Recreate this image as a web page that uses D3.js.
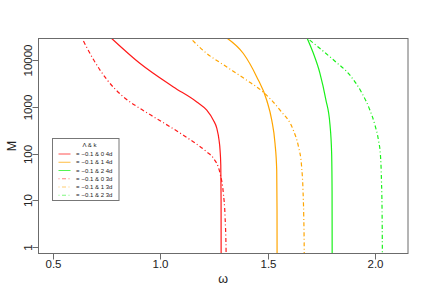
<!DOCTYPE html>
<html>
<head>
<meta charset="utf-8">
<script src="https://cdn.jsdelivr.net/npm/d3@7"></script>
<style>
  html, body { margin: 0; padding: 0; background: #fff; }
  #chart { width: 432px; height: 300px; }
</style>
</head>
<body>
<div id="chart"></div>
<script>
// data (omega, M)
var legendTitle = 'Λ & k';
var seriesLabels = ['−0.1 & 0 4d', '−0.1 & 1 4d', '−0.1 & 2 4d', '−0.1 & 0 3d', '−0.1 & 1 3d', '−0.1 & 2 3d'];
var xTicks = [0.5, 1.0, 1.5, 2.0];
var yTicks = [1, 10, 100, 1000, 10000];

var omega04 = [0.7713, 0.9062, 1.0612, 1.1701, 1.2166, 1.2473, 1.2631, 1.2738, 1.2785, 1.2818, 1.2832, 1.2835];
var m04     = [30000, 8500, 2680, 1279, 849, 519, 349, 193, 118, 56, 10, 0.5];
var omega14 = [1.3097, 1.3869, 1.4493, 1.4958, 1.5191, 1.5344, 1.5423, 1.5437, 1.544];
var m14     = [30000, 13930, 4390, 1390, 519, 164, 44, 6.1, 0.5];
var omega24 = [1.6834, 1.712, 1.743, 1.771, 1.790, 1.798, 1.800, 1.8005];
var m24     = [30000, 14400, 5360, 1430, 429, 102, 16, 0.5];
var omega03 = [0.6349, 0.6889, 0.7513, 0.8285, 0.9062, 0.9839, 1.1077, 1.2166, 1.2473, 1.2785, 1.2939, 1.3018, 1.3064, 1.307];
var m03     = [30000, 10350, 3855, 1636, 923, 558, 247, 108, 79.5, 37.4, 13.9, 4.4, 0.85, 0.5];
var omega13 = [1.1389, 1.2166, 1.2939, 1.4028, 1.48, 1.5577, 1.6196, 1.6438, 1.6577, 1.6647, 1.668, 1.6703, 1.6705];
var m13     = [30000, 13930, 8010, 3725, 2062, 849, 316, 139, 56, 16.4, 4.8, 0.84, 0.5];
var omega23 = [1.6834, 1.7439, 1.8136, 1.8834, 1.9393, 1.9765, 1.9998, 2.016, 2.0253, 2.03, 2.0333, 2.0345];
var m23     = [30000, 17800, 9520, 4770, 1963, 849, 405, 193, 92, 26.9, 3.7, 0.5];

var seriesOmega = [omega04, omega14, omega24, omega03, omega13, omega23];
var seriesM     = [m04, m14, m24, m03, m13, m23];

var Chart = {
	options : {
		width : 432,
		height : 300,
		plot : { left: 38.5, top: 38.5, right: 408, bottom: 253.5 },
		xDomain : [0.433, 2.1536],
		yDomain : [0.722, 29200],
		font : '"Liberation Sans", Arial, Helvetica, sans-serif',
		axisColor : '#6b6b6b',
		colors : ['#ff1a1a', '#ffa500', '#19f019', '#ff1a1a', '#ffa500', '#19f019'],
		dashes : [null, null, null, '1,2.5,4,2.5', '1,2.5,4,2.5', '1,2.5,4,2.5'],
		tickLen : 6,
		tickFont : 11.5,
		legend : { x: 52.5, y: 138.5, w: 66.5, h: 62, rowH: 8.25, firstRow: 154, fontSize: 6 }
	},
	renderAxes : function(svg, x, y, opt){
		var p = opt.plot;
		var g = svg.append('g');
		// box
		g.append('rect')
		 .attr('x', p.left)
		 .attr('y', p.top)
		 .attr('width', p.right - p.left)
		 .attr('height', p.bottom - p.top)
		 .attr('fill', 'none')
		 .attr('stroke', opt.axisColor)
		 .attr('stroke-width', 1);

		// x ticks
		xTicks.forEach(function(t){
			var tx = Math.round(x(t)) + 0.5;
			g.append('line')
			 .attr('x1', tx).attr('x2', tx)
			 .attr('y1', p.bottom).attr('y2', p.bottom + opt.tickLen)
			 .attr('stroke', opt.axisColor);
			g.append('text')
			 .attr('x', tx)
			 .attr('y', 268)
			 .attr('text-anchor', 'middle')
			 .attr('font-size', opt.tickFont + 'px')
			 .attr('font-family', opt.font)
			 .attr('fill', '#222')
			 .text(d3.format('.1f')(t));
		});

		// y ticks (log)
		yTicks.forEach(function(t){
			var ty = Math.round(y(t)) + 0.5;
			g.append('line')
			 .attr('x1', p.left - opt.tickLen).attr('x2', p.left)
			 .attr('y1', ty).attr('y2', ty)
			 .attr('stroke', opt.axisColor);
			g.append('text')
			 .attr('transform', 'translate(31.5,' + ty + ') rotate(-90)')
			 .attr('text-anchor', 'middle')
			 .attr('font-size', opt.tickFont + 'px')
			 .attr('font-family', opt.font)
			 .attr('fill', '#222')
			 .text(t);
		});

		// titles
		g.append('text')
		 .attr('x', (p.left + p.right) / 2)
		 .attr('y', 283)
		 .attr('text-anchor', 'middle')
		 .attr('font-size', '12.5px')
		 .attr('font-family', opt.font)
		 .attr('fill', '#222')
		 .text('ω');
		g.append('text')
		 .attr('transform', 'translate(15.5,' + ((p.top + p.bottom) / 2) + ') rotate(-90)')
		 .attr('text-anchor', 'middle')
		 .attr('font-size', '12.5px')
		 .attr('font-family', opt.font)
		 .attr('fill', '#222')
		 .text('M');
	},
	renderLines : function(svg, x, y, opt){
		var p = opt.plot;
		svg.append('defs').append('clipPath')
		   .attr('id', 'plotClip')
		   .append('rect')
		   .attr('x', p.left).attr('y', p.top)
		   .attr('width', p.right - p.left).attr('height', p.bottom - p.top);

		var line = d3.line()
			.x(function(d){ return x(d[0]); })
			.y(function(d){ return y(d[1]); })
			.curve(d3.curveMonotoneX);

		var g = svg.append('g').attr('clip-path', 'url(#plotClip)');
		for(var i = 0; i < seriesOmega.length; i++){
			var pts = seriesOmega[i].map(function(w, j){ return [w, seriesM[i][j]]; });
			var path = g.append('path')
			 .attr('d', line(pts))
			 .attr('fill', 'none')
			 .attr('stroke', opt.colors[i])
			 .attr('stroke-width', 1.2);
			if(opt.dashes[i]){
				path.attr('stroke-dasharray', opt.dashes[i]);
			}
		}
	},
	renderLegend : function(svg, opt){
		var L = opt.legend;
		var g = svg.append('g');
		g.append('rect')
		 .attr('x', L.x).attr('y', L.y)
		 .attr('width', L.w).attr('height', L.h)
		 .attr('fill', '#fff')
		 .attr('stroke', '#777')
		 .attr('stroke-width', 1);
		g.append('text')
		 .attr('x', 89.5)
		 .attr('y', 147)
		 .attr('text-anchor', 'middle')
		 .attr('font-size', L.fontSize + 'px')
		 .attr('font-family', opt.font)
		 .attr('fill', '#222')
		 .text(legendTitle);
		seriesLabels.forEach(function(lab, i){
			var ry = L.firstRow + i * L.rowH;
			var ln = g.append('line')
			 .attr('x1', 58.5).attr('x2', 70.5)
			 .attr('y1', ry).attr('y2', ry)
			 .attr('stroke', opt.colors[i])
			 .attr('stroke-opacity', opt.dashes[i] ? 0.55 : 0.75)
			 .attr('stroke-width', 1);
			if(opt.dashes[i]){
				ln.attr('stroke-dasharray', opt.dashes[i]);
			}
			g.append('text')
			 .attr('x', 76)
			 .attr('y', ry + 2.2)
			 .attr('font-size', L.fontSize + 'px')
			 .attr('font-family', opt.font)
			 .attr('fill', '#222')
			 .text('=');
			g.append('text')
			 .attr('x', 81.5)
			 .attr('y', ry + 2.2)
			 .attr('font-size', L.fontSize + 'px')
			 .attr('font-family', opt.font)
			 .attr('fill', '#222')
			 .text(lab);
		});
	},
	draw : function(id){
		var opt = this.options;
		var p = opt.plot;
		var svg = d3.select(id).append('svg')
			.attr('width', opt.width)
			.attr('height', opt.height);
		var x = d3.scaleLinear().domain(opt.xDomain).range([p.left, p.right]);
		var y = d3.scaleLog().domain(opt.yDomain).range([p.bottom, p.top]);
		this.renderLines(svg, x, y, opt);
		this.renderAxes(svg, x, y, opt);
		this.renderLegend(svg, opt);
	}
};

Chart.draw('#chart');
</script>
</body>
</html>
